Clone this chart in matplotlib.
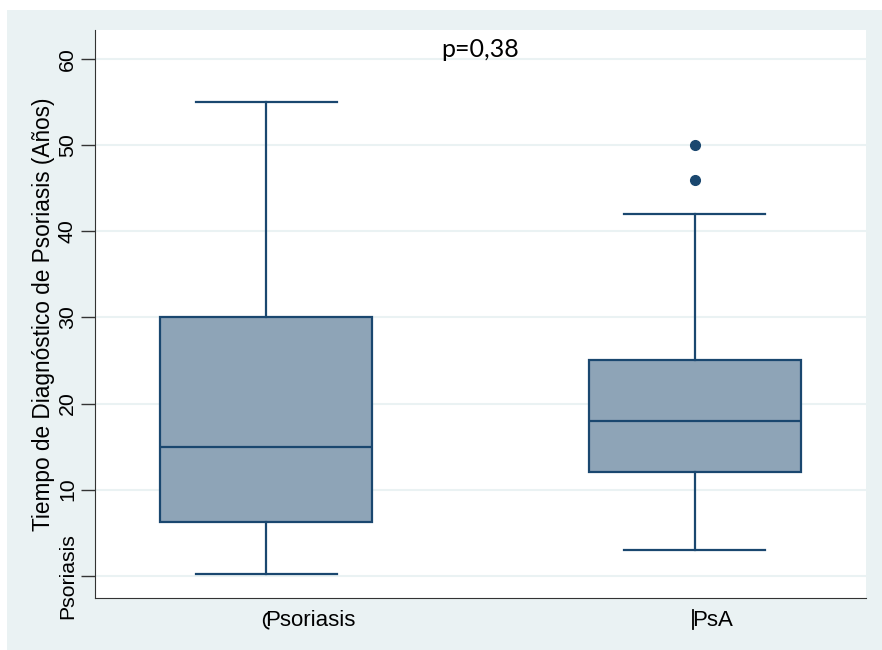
import matplotlib.pyplot as plt
from matplotlib.patches import Rectangle, Arc
from matplotlib.lines import Line2D

# box statistics
groups = ["Psoriasis", "PsA"]
whislo = [0.2, 3.0]
q1 = [6.2, 12.0]
med = [15.0, 18.0]
q3 = [30.0, 25.0]
whishi = [55.0, 42.0]
fliers = [[], [50.0, 46.0]]

yticks = [0, 10, 20, 30, 40, 50, 60]
yticklabels = ["Psoriasis", "10", "20", "30", "40", "50", "60"]
ylabel = "Tiempo de Diagnóstico de Psoriasis (Años)"
ptext = "p=0,38"

navy = "#1a476f"
fill = "#8ea4b7"
bg = "#eaf2f3"
sans = ["Liberation Sans", "DejaVu Sans"]

fig = plt.figure(figsize=(8.82, 6.5), dpi=100, facecolor="white")
fig.patches.append(Rectangle((7 / 882, 0), 1 - 7 / 882, 1 - 10 / 650,
                             transform=fig.transFigure, facecolor=bg,
                             edgecolor="none", zorder=-10))

ax = fig.add_axes([95 / 882, 1 - 598 / 650, (866 - 95) / 882, (598 - 30) / 650])
ax.set_facecolor("white")

stats = []
for i, g in enumerate(groups):
    stats.append(dict(label=g, whislo=whislo[i], q1=q1[i], med=med[i],
                      q3=q3[i], whishi=whishi[i], fliers=fliers[i]))

ax.bxp(stats, positions=[1, 2], widths=0.495, patch_artist=True,
       boxprops=dict(facecolor=fill, edgecolor=navy, linewidth=1.6),
       medianprops=dict(color=navy, linewidth=1.6),
       whiskerprops=dict(color=navy, linewidth=1.6),
       capprops=dict(color=navy, linewidth=1.6),
       capwidths=0.33,
       flierprops=dict(marker="o", markerfacecolor=navy, markeredgecolor=navy,
                       markersize=7, linestyle="none"))

ax.set_xlim(0.6, 2.40)
ax.set_ylim(-2.6, 63.4)

ax.set_yticks(yticks)
ax.set_yticklabels(yticklabels, rotation=90, va="center",
                   fontsize=15.3, family=sans)
ax.tick_params(axis="y", length=10, width=1, color="#333333", pad=3)
ax.set_xticks([])

# group labels start at the box centre, like the reference
xtr = ax.get_xaxis_transform()
ax.text(1 - 0.002, -0.04, groups[0], transform=xtr, ha="left", va="center",
        fontsize=16, family=sans)
ax.text(2 - 0.007, -0.04, groups[1], transform=xtr, ha="left", va="center",
        fontsize=16, family=sans)
# stray marks drawn over the first letters in the reference
ax.add_patch(Arc((1.007, -0.04), 0.026, 0.028, theta1=90, theta2=270,
                 transform=xtr, clip_on=False, color="black", linewidth=1.3))
ax.add_line(Line2D([1.996, 1.996], [-0.022, -0.055], transform=xtr,
                   clip_on=False, color="black", linewidth=1.3))

ax.grid(axis="y", color=bg, linewidth=1.5)
ax.set_axisbelow(True)

for s in ["top", "right"]:
    ax.spines[s].set_visible(False)
ax.spines["left"].set_color("#333333")
ax.spines["bottom"].set_color("#333333")

ax.set_ylabel(ylabel, fontsize=16.3, family=sans, labelpad=2)

ax.text(0.5, 0.965, ptext, transform=ax.transAxes, ha="center", va="center",
        fontsize=18, family="Lato")

fig.savefig("out.png", dpi=100, facecolor=fig.get_facecolor())
